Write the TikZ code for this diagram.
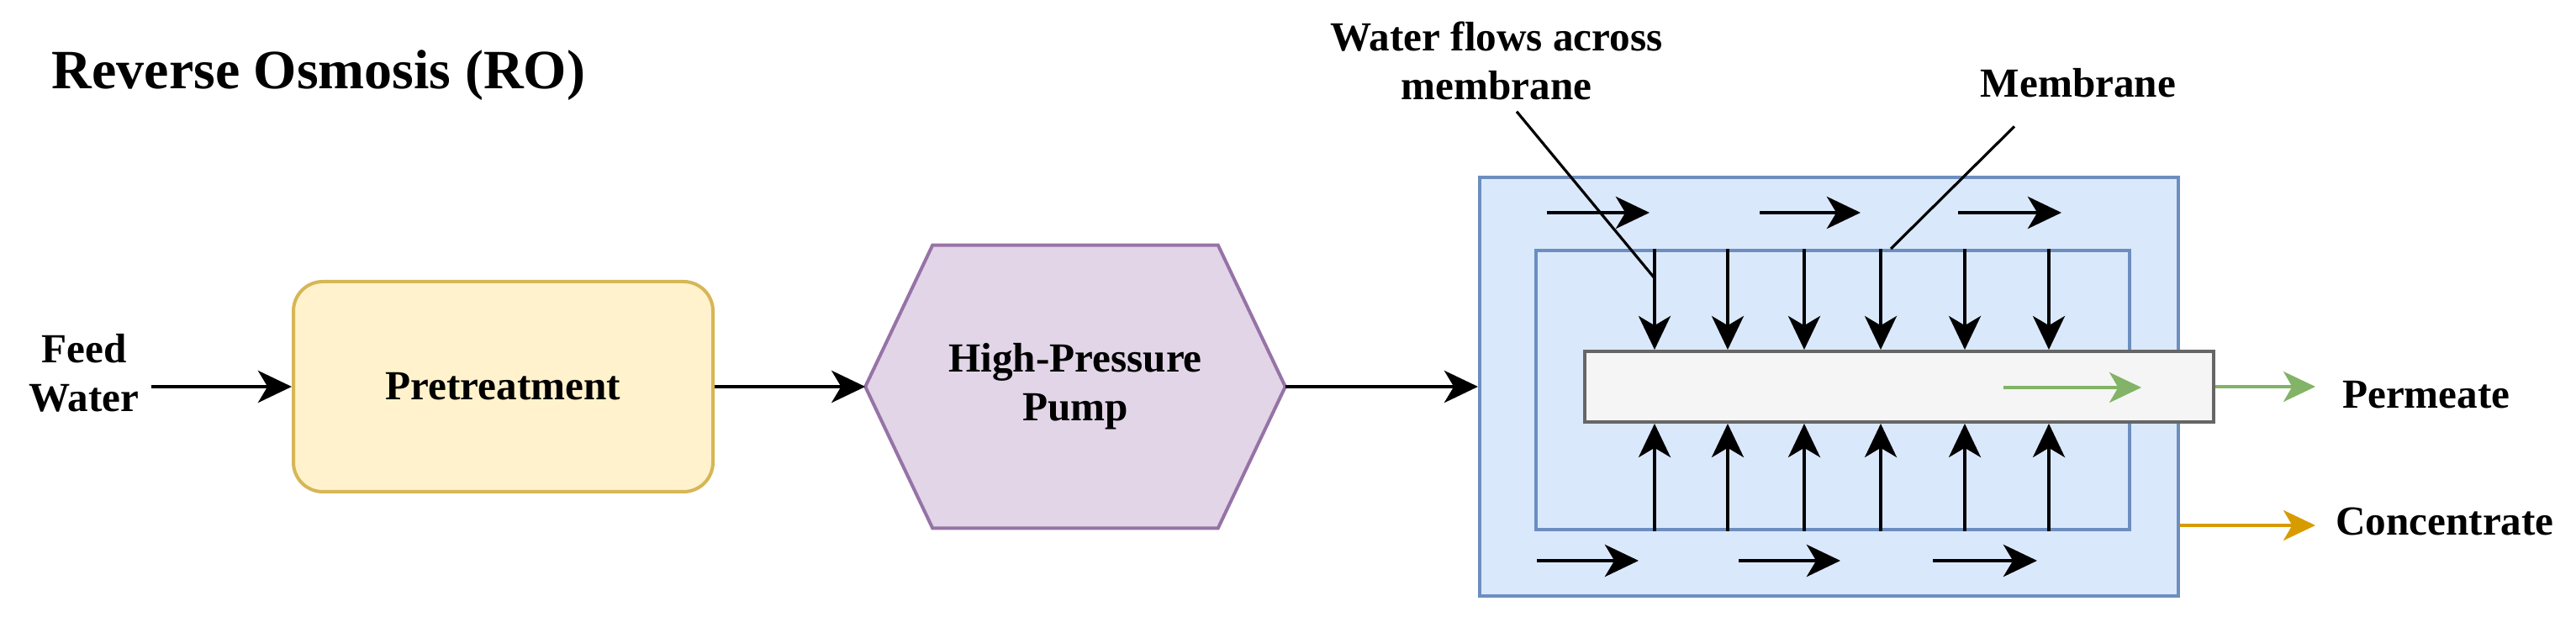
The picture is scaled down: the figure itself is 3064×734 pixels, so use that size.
\documentclass[tikz,border=0pt]{standalone}
\usepackage{fontspec}
\setmainfont{Liberation Serif}
\usepackage{tikz}
\usetikzlibrary{arrows.meta,calc}
\usepackage{xcolor}
\definecolor{pretfill}{HTML}{FFF2CC}
\definecolor{pretline}{HTML}{D6B656}
\definecolor{pumpfill}{HTML}{E1D5E7}
\definecolor{pumpline}{HTML}{9673A6}
\definecolor{boxfill}{HTML}{DAE8FC}
\definecolor{boxline}{HTML}{6C8EBF}
\definecolor{tubefill}{HTML}{F5F5F5}
\definecolor{tubeline}{HTML}{666666}
\definecolor{permgreen}{HTML}{82B366}
\definecolor{concorange}{HTML}{D79B00}

\begin{document}
\begin{tikzpicture}[x=0.25pt,y=-0.25pt,
  lbl/.style={font=\bfseries\fontsize{12.3}{14.5}\selectfont,align=center},
  flow/.style={-{Stealth[length=10pt,width=9.5pt,inset=2.8pt]},line width=1.2pt},
  leader/.style={line width=.8pt},
  permflow/.style={-{Stealth[length=9.5pt,width=9pt,inset=2.6pt]},draw=permgreen,line width=.9pt},
  concflow/.style={-{Stealth[length=9.5pt,width=9pt,inset=2.6pt]},draw=concorange,line width=.9pt}]
  \useasboundingbox (0,0) rectangle (3064,734);

  \node[anchor=base west,inner sep=0,font=\bfseries\fontsize{16.5}{20}\selectfont] (title) at (61,106) {Reverse Osmosis (RO)};

  % feed and pretreatment
  \node[lbl] (feed) at (100,444) {Feed\\Water};
  \node[lbl,draw=pretline,fill=pretfill,line width=1pt,rounded corners=8.75pt,
    minimum width=124.75pt,minimum height=62.5pt] (pre) at (598.5,460) {Pretreatment};
  \draw[flow] (feed.east |- pre.west) -- (pre.west);

  % pump
  \node[minimum width=124.5pt,minimum height=83.75pt] (pump) at (1279,460) {};
  \draw[draw=pumpline,fill=pumpfill,line width=1pt] (pump.west) -- ($(pump.north west)+(80,0)$)
    -- ($(pump.north east)+(-80,0)$) -- (pump.east) -- ($(pump.south east)+(-80,0)$)
    -- ($(pump.south west)+(80,0)$) -- cycle;
  \node[lbl] (pumplbl) at (pump) {High-Pressure\\Pump};
  \draw[flow] (pre.east) -- (pump.west);

  % RO module
  \node[draw=boxline,fill=boxfill,line width=1pt,minimum width=207.75pt,minimum height=124.5pt] (outer) at (2175.5,460) {};
  \node[draw=boxline,fill=boxfill,line width=1pt,minimum width=176.5pt,minimum height=83pt] (inner) at (2180,464) {};
  \node[draw=tubeline,fill=tubefill,line width=1pt,minimum width=187pt,minimum height=21pt] (tube) at (2259,460) {};
  \draw[flow] (pump.east) -- (outer.west);

  \foreach \a/\b/\y in {1840/1962/253,2093/2213/253,2329/2452/253,1828/1949/667,2068/2189/667,2299/2423/667}
    \draw[flow] (\a,\y) -- (\b,\y);
  \foreach \x in {1968,2055,2146,2237,2337,2437}{
    \draw[flow,line width=1pt] (\x,0 |- inner.north) -- (\x,0 |- tube.north);
    \draw[flow,line width=1pt] (\x,0 |- inner.south) -- (\x,0 |- tube.south);
  }
  \draw[permflow] (2383,461) -- (2547,461);

  % outputs
  \node[lbl,anchor=west] (perm) at (2772,470) {Permeate};
  \node[lbl,anchor=west] (conc) at (2764,620) {Concentrate};
  \draw[permflow,shorten >=4.5pt] (tube.east) -- (perm.west |- tube.east);
  \draw[concflow,shorten >=2.5pt] (outer.east |- 0,625) -- (conc.west |- 0,625);

  % labels
  \node[lbl] (flowlbl) at (1780,72) {Water flows across\\membrane};
  \draw[leader] ([xshift=6pt]flowlbl.south) -- ($(inner.north -| 1968,0)+(0,35)$);
  \node[lbl] (memlbl) at (2472,99) {Membrane};
  \draw[leader] ([xshift=-19pt,yshift=-5pt]memlbl.south) -- ($(inner.north west)+(424,0)$);
\end{tikzpicture}
\end{document}
